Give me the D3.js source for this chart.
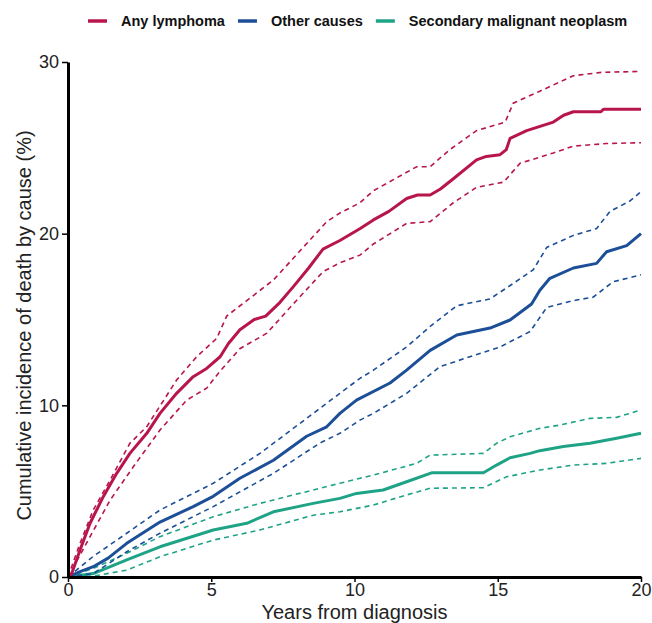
<!DOCTYPE html>
<html>
<head>
<meta charset="utf-8">
<script src="https://cdn.jsdelivr.net/npm/d3@7"></script>
<style>
  body { margin: 0; background: #fff; }
  svg { display: block; font-family: "Liberation Sans", Arial, sans-serif; }
</style>
</head>
<body>
<svg id="chart" width="652" height="623"></svg>
<script>
const causes = ["Any lymphoma", "Other causes", "Secondary malignant neoplasm"];
const colors = ["#b8164b", "#1c4f97", "#1fa386"];

const xTicks = [0, 5, 10, 15, 20];
const yTicks = [0, 10, 20, 30];

// any lymphoma: estimate + 95% band
const lymphT = [0, 0.13, 0.42, 0.77, 1.23, 1.7, 2.16, 2.75, 3.21, 3.79, 4.37, 4.84, 5.31, 5.6, 6.0, 6.5, 6.9, 7.4, 7.86, 8.4, 8.9, 9.49, 10.2, 10.66, 11.2, 11.82, 12.2, 12.64, 13.0, 13.45, 14.26, 14.6, 15.08, 15.3, 15.43, 16.01, 16.94, 17.3, 17.64, 18.6, 18.69, 20];
const lymphV = [0, 0.2, 1.57, 3.13, 4.68, 6.04, 7.2, 8.37, 9.53, 10.7, 11.67, 12.15, 12.83, 13.6, 14.4, 15.0, 15.2, 16.0, 16.9, 18.0, 19.1, 19.6, 20.3, 20.8, 21.3, 22.05, 22.25, 22.25, 22.6, 23.2, 24.3, 24.5, 24.6, 24.9, 25.55, 26.0, 26.5, 26.9, 27.1, 27.1, 27.25, 27.25];
const lymphUpT = [0, 0.42, 0.88, 1.47, 2.16, 2.75, 3.79, 4.49, 5.19, 5.54, 6.24, 7.17, 8.1, 9.03, 9.49, 10.19, 10.66, 12.17, 12.64, 13.33, 14.26, 15.26, 15.54, 16.47, 17.64, 18.63, 20];
const lymphUpV = [0, 1.96, 3.9, 5.65, 7.79, 8.76, 11.47, 12.83, 13.9, 15.2, 16.1, 17.3, 19.0, 20.7, 21.2, 21.8, 22.5, 23.9, 23.9, 24.9, 26.0, 26.5, 27.6, 28.3, 29.2, 29.4, 29.45];
const lymphLoT = [0, 0.77, 1.47, 2.28, 3.21, 4.14, 4.84, 5.31, 6.0, 6.94, 7.86, 8.91, 9.49, 10.19, 10.66, 11.82, 12.64, 13.45, 14.26, 15.2, 15.78, 16.94, 17.64, 18.8, 20];
const lymphLoV = [0, 2.35, 4.48, 6.42, 8.56, 10.3, 11.0, 12.0, 13.3, 14.2, 15.9, 17.8, 18.3, 18.75, 19.4, 20.6, 20.7, 21.8, 22.7, 23.0, 24.1, 24.7, 25.1, 25.25, 25.3];

// other causes
const otherT = [0, 0.4, 0.88, 1.4, 2.05, 3.21, 4.37, 5.07, 6.0, 7.17, 8.33, 9.03, 9.49, 10.07, 11.24, 11.82, 12.64, 13.57, 14.73, 15.43, 16.18, 16.47, 16.82, 17.64, 18.45, 18.8, 19.5, 20];
const otherV = [0, 0.3, 0.6, 1.1, 1.96, 3.2, 4.1, 4.7, 5.75, 6.8, 8.2, 8.75, 9.53, 10.3, 11.3, 12.05, 13.2, 14.1, 14.5, 14.97, 15.9, 16.7, 17.4, 18.0, 18.27, 18.95, 19.3, 20.0];
const otherUpT = [0, 0.88, 2.05, 3.21, 5.07, 6.7, 8.56, 9.49, 10.19, 10.66, 11.82, 12.64, 13.57, 14.73, 15.54, 16.24, 16.71, 17.64, 18.45, 18.92, 19.61, 20];
const otherUpV = [0, 1.2, 2.55, 3.9, 5.46, 7.2, 9.53, 10.7, 11.57, 12.05, 13.4, 14.6, 15.8, 16.2, 17.1, 17.9, 19.2, 19.9, 20.3, 21.3, 21.9, 22.45];
const otherLoT = [0, 0.88, 2.05, 3.21, 5.07, 7.17, 8.79, 9.49, 10.19, 10.66, 11.82, 12.98, 14.15, 15.08, 16.13, 16.71, 17.64, 18.33, 19.03, 20];
const otherLoV = [0, 0.2, 1.47, 2.55, 4.1, 6.04, 7.8, 8.37, 9.14, 9.53, 10.7, 12.25, 12.9, 13.4, 14.3, 15.7, 16.1, 16.3, 17.2, 17.6];

// secondary malignant neoplasm
const smnT = [0, 0.88, 2.05, 3.21, 5.07, 6.24, 7.17, 8.56, 9.49, 10.07, 11.0, 11.82, 12.69, 14.5, 14.96, 15.43, 16.13, 16.47, 17.29, 18.22, 19.15, 20];
const smnV = [0, 0.2, 1.0, 1.76, 2.74, 3.13, 3.8, 4.29, 4.58, 4.87, 5.07, 5.55, 6.07, 6.07, 6.52, 6.95, 7.2, 7.36, 7.6, 7.79, 8.08, 8.37];
const smnUpT = [0, 0.88, 2.05, 3.21, 5.07, 6.7, 8.56, 9.49, 10.66, 12.17, 12.64, 14.5, 14.96, 15.43, 16.47, 17.17, 18.22, 19.15, 20];
const smnUpV = [0, 0.5, 1.38, 2.35, 3.51, 4.29, 5.07, 5.46, 5.94, 6.62, 7.1, 7.2, 7.79, 8.17, 8.66, 8.85, 9.24, 9.3, 9.73];
const smnLoT = [0, 0.88, 2.05, 3.21, 5.07, 6.7, 8.56, 9.49, 10.66, 11.82, 12.64, 14.5, 15.31, 16.47, 17.64, 18.8, 20];
const smnLoV = [0, 0.05, 0.4, 1.18, 2.15, 2.74, 3.6, 3.8, 4.19, 4.78, 5.17, 5.2, 5.84, 6.23, 6.52, 6.62, 6.91];

const zip = (t, v) => t.map((d, i) => ({ t: d, v: v[i] }));

const series = [
  { cause: 0, est: zip(lymphT, lymphV), up: zip(lymphUpT, lymphUpV), lo: zip(lymphLoT, lymphLoV) },
  { cause: 1, est: zip(otherT, otherV), up: zip(otherUpT, otherUpV), lo: zip(otherLoT, otherLoV) },
  { cause: 2, est: zip(smnT, smnV), up: zip(smnUpT, smnUpV), lo: zip(smnLoT, smnLoV) }
];

const svg = d3.select("#chart");

const x = d3.scaleLinear().domain([0, 20]).range([68, 641]);
const y = d3.scaleLinear().domain([0, 30]).range([577, 62]);

const line = d3.line().x(d => x(d.t)).y(d => y(d.v));

const plot = svg.append("g");

// draw green first so red sits on top
series.slice().reverse().forEach(s => {
  const col = colors[s.cause];
  [s.up, s.lo].forEach(band => {
    plot.append("path")
      .datum(band)
      .attr("fill", "none")
      .attr("stroke", col)
      .attr("stroke-width", 1.6)
      .attr("stroke-dasharray", "5,4")
      .attr("d", line);
  });
  plot.append("path")
    .datum(s.est)
    .attr("fill", "none")
    .attr("stroke", col)
    .attr("stroke-width", 3)
    .attr("stroke-linejoin", "round")
    .attr("d", line);
});

// Axes
const xAxis = svg.append("g")
  .attr("transform", `translate(0,${y(0)})`)
  .call(d3.axisBottom(x).tickValues(xTicks).tickSize(5).tickPadding(1).tickSizeOuter(0));
const yAxis = svg.append("g")
  .attr("transform", `translate(${x(0)},0)`)
  .call(d3.axisLeft(y).tickValues(yTicks).tickSize(6).tickPadding(3).tickSizeOuter(0));

[xAxis, yAxis].forEach(g => {
  g.select(".domain").attr("stroke", "#000").attr("stroke-width", 3);
  g.selectAll(".tick line").attr("stroke", "#000").attr("stroke-width", 1.5);
  g.selectAll(".tick text")
    .attr("fill", "#222")
    .attr("font-size", "18px")
    .attr("font-family", "Liberation Sans, Arial, sans-serif");
});
yAxis.selectAll(".tick text").attr("dy", "0.32em");

// Axis titles
svg.append("text")
  .attr("x", (x(0) + x(20)) / 2)
  .attr("y", 619)
  .attr("text-anchor", "middle")
  .attr("font-size", "20px")
  .attr("fill", "#222")
  .text("Years from diagnosis");

svg.append("text")
  .attr("transform", "rotate(-90)")
  .attr("x", -(y(0) + y(30)) / 2 - 6)
  .attr("y", 31)
  .attr("text-anchor", "middle")
  .attr("font-size", "20px")
  .attr("fill", "#222")
  .text("Cumulative incidence of death by cause (%)");

// Legend
const legend = svg.append("g").attr("transform", "translate(88,21)");
let lx = 0;
causes.forEach((c, i) => {
  legend.append("line")
    .attr("x1", lx).attr("x2", lx + 19)
    .attr("y1", 0).attr("y2", 0)
    .attr("stroke", colors[i])
    .attr("stroke-width", 3.5);
  const t = legend.append("text")
    .attr("x", lx + 33)
    .attr("y", 0)
    .attr("dy", "0.35em")
    .attr("font-size", "14.5px")
    .attr("font-weight", "bold")
    .attr("fill", "#111")
    .text(c);
  lx += 33 + t.node().getComputedTextLength() + 13;
});
</script>
</body>
</html>
